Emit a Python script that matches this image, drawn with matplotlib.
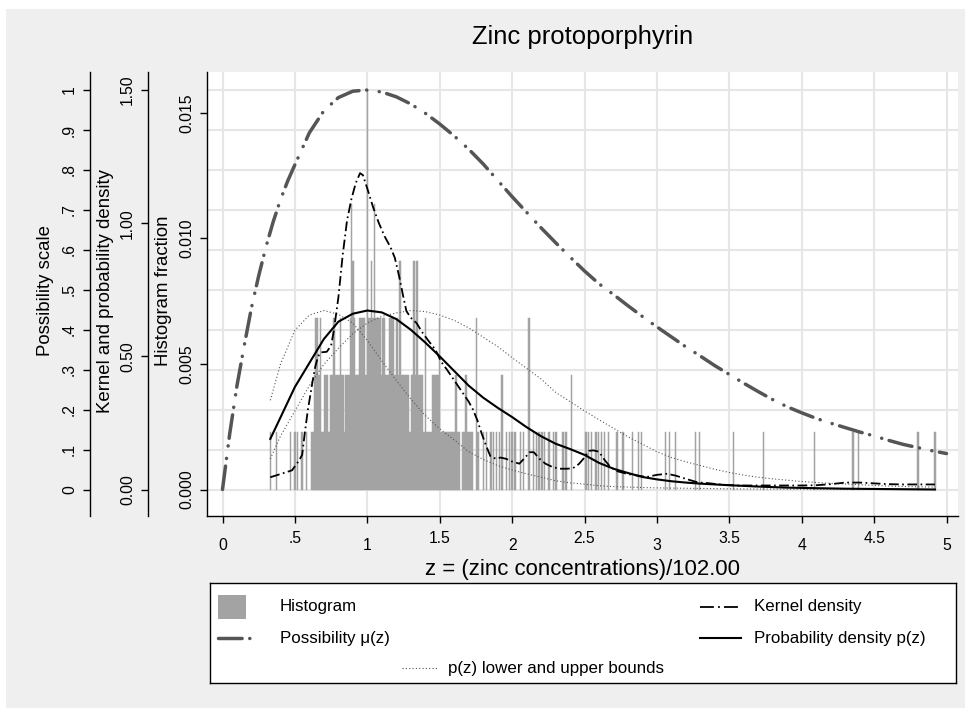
import matplotlib
matplotlib.use("Agg")
import matplotlib.pyplot as plt
import matplotlib.transforms as mtransforms
from matplotlib import font_manager as fm
from matplotlib.patches import Rectangle

# ---------------- text ----------------
TITLE = "Zinc protoporphyrin"
X_LABEL = "z = (zinc concentrations)/102.00"
Y_LABEL_POSS = "Possibility scale"
Y_LABEL_KERN = "Kernel and probability density"
Y_LABEL_HIST = "Histogram fraction"
LEG_HIST = "Histogram"
LEG_POSS = "Possibility \u03bc(z)"
LEG_KERN = "Kernel density"
LEG_PROB = "Probability density p(z)"
LEG_BOUND = "p(z) lower and upper bounds"

# ---------------- ticks ----------------
X_TICKS = [0, 0.5, 1, 1.5, 2, 2.5, 3, 3.5, 4, 4.5, 5]
X_TICK_LABELS = ["0", ".5", "1", "1.5", "2", "2.5", "3", "3.5", "4", "4.5", "5"]
POSS_TICKS = [0, .1, .2, .3, .4, .5, .6, .7, .8, .9, 1]
POSS_TICK_LABELS = ["0", ".1", ".2", ".3", ".4", ".5", ".6", ".7", ".8", ".9", "1"]
KERN_TICKS = [0, 0.5, 1.0, 1.5]
KERN_TICK_LABELS = ["0.00", "0.50", "1.00", "1.50"]
HIST_TICKS = [0, 0.005, 0.010, 0.015]
HIST_TICK_LABELS = ["0.000", "0.005", "0.010", "0.015"]

# ---------------- data ----------------
ZINC_DIVISOR = 102.0
HIST_N = 440
hist_zinc = [34, 38, 48, 51, 53, 56, 59,
             63, 64, 65, 66, 67, 68, 69, 70, 71, 72, 73, 74, 75, 76, 77, 78, 79, 80,
             81, 82, 83, 84, 85, 86, 87, 88, 89, 90, 91, 92, 93, 94, 95, 96, 97, 98,
             99, 100, 101, 102, 103, 104, 105, 106, 107, 108, 109, 110, 111, 112, 113,
             114, 115, 116, 117, 118, 119, 120, 121, 122, 123, 124, 125, 126, 127, 128,
             129, 130, 131, 132, 133, 134, 135, 136, 137, 138, 139, 140, 141, 142, 143,
             144, 145, 146, 147, 148, 149, 150, 151, 152, 153, 154, 155, 156, 157, 158,
             159, 160, 161, 162, 163, 164, 165, 166, 167, 169, 170, 171, 172, 173, 174,
             175, 176,
             179, 180, 184, 186, 189, 191, 193, 195, 197, 200, 202, 204, 206, 210, 212,
             216, 219, 221, 223, 225, 227, 230, 233, 235, 240, 242, 246, 256, 258, 260,
             263, 265, 267, 269, 272, 278, 282, 289, 293, 295, 312, 315, 319, 333, 336,
             360, 381, 417, 444, 448, 490, 502]
hist_count = [1, 1, 1, 1, 1, 1, 1,
              1, 1, 2, 3, 3, 2, 3, 1, 1, 2, 2, 2, 1, 2, 2, 3, 3, 2,
              2, 2, 3, 2, 2, 1, 2, 2, 2, 3, 5, 4, 3, 2, 2, 2, 3, 3,
              3, 3, 2, 7, 3, 3, 4, 3, 5, 3, 3, 3, 3, 2, 3,
              3, 2, 2, 2, 3, 3, 3, 2, 2, 3, 2, 4, 2, 2, 2,
              2, 2, 2, 1, 2, 2, 4, 2, 4, 2, 2, 2, 2, 1, 3,
              1, 1, 1, 1, 2, 2, 2, 2, 2, 3, 1, 1, 1, 1, 1,
              1, 1, 1, 1, 1, 2, 2, 1, 1, 1, 1, 2, 2, 1, 1,
              1, 1,
              3, 1, 1, 1, 1, 1, 1, 1, 2, 1, 1, 1, 1, 1, 1,
              3, 1, 1, 1, 1, 1, 1, 1, 1, 1, 1, 2, 1, 1, 1,
              1, 1, 1, 1, 1, 1, 1, 1, 1, 1, 1, 1, 1, 1, 1,
              1, 1, 1, 1, 1, 1, 1]

poss_z = [0.0, 0.05, 0.1, 0.15, 0.2, 0.25, 0.3, 0.35, 0.4, 0.45, 0.5, 0.6, 0.7, 0.8,
          0.9, 1.0, 1.1, 1.2, 1.3, 1.4, 1.5, 1.6, 1.7, 1.8, 1.9, 2.0, 2.1, 2.2, 2.3,
          2.4, 2.5, 2.6, 2.7, 2.8, 2.9, 3.0, 3.1, 3.2, 3.3, 3.4, 3.5, 3.6, 3.7, 3.8,
          3.9, 4.0, 4.1, 4.2, 4.3, 4.4, 4.5, 4.6, 4.7, 4.8, 4.9, 5.0]
poss_mu = [0.0, 0.14, 0.26, 0.36, 0.455, 0.535, 0.607, 0.67, 0.725, 0.772, 0.813, 0.893,
           0.948, 0.981, 0.997, 1.0, 0.995, 0.983, 0.965, 0.942, 0.915, 0.885, 0.852,
           0.815, 0.774, 0.733, 0.694, 0.655, 0.618, 0.582, 0.547, 0.515, 0.488, 0.46,
           0.433, 0.407, 0.382, 0.357, 0.334, 0.31, 0.288, 0.266, 0.245, 0.225, 0.207,
           0.192, 0.178, 0.166, 0.155, 0.144, 0.134, 0.123, 0.113, 0.105, 0.097, 0.09]

kern_z = [0.33, 0.40, 0.48, 0.53, 0.55, 0.57, 0.59, 0.62, 0.64, 0.66, 0.68, 0.72, 0.75,
          0.77, 0.80, 0.83, 0.86, 0.89, 0.92, 0.95, 0.97, 1.00, 1.04, 1.08, 1.12, 1.16,
          1.19, 1.22, 1.25, 1.27, 1.30, 1.34, 1.38, 1.42, 1.47, 1.51, 1.55, 1.60, 1.65,
          1.70, 1.73, 1.76, 1.79, 1.82, 1.85, 1.89, 1.92, 1.96, 2.00, 2.05, 2.09, 2.12,
          2.15, 2.19, 2.23, 2.28, 2.33, 2.38, 2.42, 2.46, 2.50, 2.53, 2.56, 2.60, 2.64,
          2.68, 2.73, 2.80, 2.87, 2.93, 3.00, 3.07, 3.13, 3.20, 3.28, 3.35, 3.45, 3.55,
          3.70, 3.85, 4.00, 4.10, 4.20, 4.30, 4.40, 4.50, 4.60, 4.70, 4.80, 4.92]
kern_d = [0.046, 0.058, 0.072, 0.11, 0.13, 0.22, 0.30, 0.40, 0.46, 0.50, 0.515, 0.517,
          0.54, 0.60, 0.72, 0.88, 1.01, 1.09, 1.15, 1.188, 1.18, 1.13, 1.06, 1.0, 0.95,
          0.91, 0.87, 0.80, 0.72, 0.67, 0.645, 0.625, 0.59, 0.56, 0.525, 0.48, 0.45,
          0.41, 0.37, 0.33, 0.30, 0.26, 0.21, 0.165, 0.125, 0.115, 0.12, 0.115, 0.105,
          0.097, 0.12, 0.14, 0.14, 0.115, 0.097, 0.084, 0.078, 0.078, 0.08, 0.095, 0.12,
          0.145, 0.147, 0.142, 0.11, 0.084, 0.068, 0.058, 0.052, 0.047, 0.055, 0.059,
          0.052, 0.04, 0.027, 0.024, 0.018, 0.015, 0.015, 0.015, 0.015, 0.016, 0.02,
          0.026, 0.026, 0.023, 0.02, 0.019, 0.019, 0.019]

prob_z = [0.33, 0.4, 0.5, 0.6, 0.7, 0.8, 0.9, 1.0, 1.1, 1.2, 1.3, 1.4, 1.5, 1.6, 1.7,
          1.8, 1.9, 2.0, 2.1, 2.2, 2.3, 2.4, 2.5, 2.6, 2.7, 2.8, 2.9, 3.0, 3.1, 3.2,
          3.3, 3.5, 3.7, 3.9, 4.1, 4.3, 4.5, 4.7, 4.92]
prob_p = [0.19, 0.27, 0.385, 0.475, 0.565, 0.63, 0.66, 0.672, 0.665, 0.64, 0.60, 0.552,
          0.50, 0.445, 0.39, 0.345, 0.307, 0.272, 0.234, 0.20, 0.172, 0.152, 0.13, 0.10,
          0.078, 0.062, 0.047, 0.038, 0.031, 0.026, 0.022, 0.016, 0.011, 0.007, 0.005,
          0.003, 0.002, 0.001, 0.0]

lowb_z = [0.33, 0.4, 0.5, 0.6, 0.7, 0.8, 0.9, 1.0, 1.1, 1.2, 1.3, 1.4, 1.5, 1.6, 1.7,
          1.8, 1.9, 2.0, 2.1, 2.2, 2.3, 2.4, 2.5, 2.6, 2.7, 2.8, 3.0, 3.3, 3.6, 4.0,
          4.5, 4.92]
lowb_p = [0.335, 0.47, 0.598, 0.655, 0.672, 0.658, 0.625, 0.56, 0.483, 0.41, 0.34,
          0.278, 0.228, 0.186, 0.142, 0.113, 0.09, 0.073, 0.059, 0.046, 0.033, 0.025,
          0.02, 0.014, 0.011, 0.009, 0.006, 0.004, 0.002, 0.001, 0.0005, 0.0]

uppb_z = [0.33, 0.4, 0.5, 0.6, 0.7, 0.8, 0.9, 1.0, 1.1, 1.2, 1.3, 1.4, 1.5, 1.6, 1.7,
          1.8, 1.9, 2.0, 2.1, 2.2, 2.3, 2.4, 2.5, 2.6, 2.7, 2.8, 2.9, 3.0, 3.1, 3.2,
          3.3, 3.4, 3.5, 3.6, 3.7, 3.8, 3.9, 4.0, 4.2, 4.4, 4.6, 4.8, 4.92]
uppb_p = [0.115, 0.20, 0.295, 0.39, 0.47, 0.53, 0.585, 0.625, 0.65, 0.663, 0.672, 0.668,
          0.655, 0.635, 0.607, 0.572, 0.537, 0.495, 0.455, 0.415, 0.365, 0.33, 0.295,
          0.262, 0.23, 0.198, 0.17, 0.142, 0.12, 0.104, 0.09, 0.076, 0.064, 0.054,
          0.046, 0.04, 0.035, 0.03, 0.023, 0.018, 0.013, 0.01, 0.009]

# ---------------- fonts ----------------
_names = {f.name for f in fm.fontManager.ttflist}
NARROW = "Liberation Sans Narrow" in _names
FAM = "Liberation Sans Narrow" if NARROW else "Liberation Sans"
plt.rcParams["font.family"] = [FAM, "DejaVu Sans"]
plt.rcParams["lines.scale_dashes"] = False
SC = 1.0 if NARROW else 0.84
FS_TITLE = 22 * SC
FS_XLAB = 19 * SC
FS_YLAB = 16 * SC
FS_TICK = 13.5 * SC
FS_LEG = 14.5 * SC

# ---------------- layout (pixels) ----------------
W, H = 973, 716
L, R, T, B = 207, 958, 72, 516
Z0_PX, PX_PER_Z = 222.5, 144.8
BASE_PX = 489.5
PX_PER_POSS = 399.5
PX_PER_KERN = 399.5 / 1.5
PX_PER_HIST = 376.6 / 0.015

def fx(px):
    return px / W

def fy(py):
    return 1 - py / H

def ylims(ppu):
    return (-(B - BASE_PX) / ppu, (BASE_PX - T) / ppu)

XLIM = ((L - Z0_PX) / PX_PER_Z, (R - Z0_PX) / PX_PER_Z)
PT = 0.72  # points per pixel at 100 dpi

fig = plt.figure(figsize=(W / 100, H / 100), dpi=100, facecolor="white")
fig.patches.append(Rectangle((fx(6), fy(708)), (965 - 6) / W, (708 - 9) / H,
                             transform=fig.transFigure, facecolor="#efefef",
                             edgecolor="none", zorder=-10))

rect = [fx(L), fy(B), (R - L) / W, (B - T) / H]
ax_p = fig.add_axes(rect, facecolor="white")
ax_h = fig.add_axes(rect, sharex=ax_p, facecolor="none")
ax_k = fig.add_axes(rect, sharex=ax_p, facecolor="none")
ax_mu = fig.add_axes(rect, sharex=ax_p, sharey=ax_p, facecolor="none")

ax_p.set_xlim(*XLIM)
ax_p.set_ylim(*ylims(PX_PER_POSS))
ax_h.set_ylim(*ylims(PX_PER_HIST))
ax_k.set_ylim(*ylims(PX_PER_KERN))

# grid on base axes
ax_p.set_axisbelow(True)
ax_p.grid(True, color="#e6e6e6", linewidth=1.5)

for a in (ax_p, ax_h, ax_k, ax_mu):
    for s in ("top", "right"):
        a.spines[s].set_visible(False)
for a in (ax_h, ax_k, ax_mu):
    a.spines["bottom"].set_visible(False)
    a.tick_params(axis="x", bottom=False, labelbottom=False)
ax_mu.spines["left"].set_visible(False)
ax_mu.tick_params(axis="y", left=False, labelleft=False)

ax_p.spines["left"].set_position(("outward", (L - 90) * PT))
ax_k.spines["left"].set_position(("outward", (L - 148) * PT))
for a in (ax_p, ax_h, ax_k):
    a.spines["left"].set_linewidth(1.0)
ax_p.spines["bottom"].set_linewidth(1.0)

# ---------------- histogram ----------------
hz = [k / ZINC_DIVISOR for k in hist_zinc]
hf = [c / HIST_N for c in hist_count]
ax_h.bar(hz, hf, width=1 / ZINC_DIVISOR, color="#a3a3a3", edgecolor="#a3a3a3",
         linewidth=0.35, align="center", zorder=2)

# ---------------- curves ----------------
ax_k.plot(lowb_z, lowb_p, color="#555555", linewidth=0.8, dashes=(0.8, 1.6), zorder=3)
ax_k.plot(uppb_z, uppb_p, color="#555555", linewidth=0.8, dashes=(0.8, 1.6), zorder=3)
ax_k.plot(prob_z, prob_p, color="black", linewidth=1.5, zorder=4)
KERN_DASH = (7, 2.5, 1.2, 2.5)
ax_k.plot(kern_z, kern_d, color="black", linewidth=1.3, dashes=KERN_DASH, zorder=5)
POSS_DASH = (17, 5.5, 0.1, 9, 0.1, 5.5)
ax_mu.plot(poss_z, poss_mu, color="#555555", linewidth=2.5, dashes=POSS_DASH,
           dash_capstyle="round", zorder=6)

# ---------------- ticks ----------------
ax_p.set_xticks(X_TICKS, X_TICK_LABELS)
ax_p.tick_params(axis="x", direction="out", length=7 * PT, width=1.0, pad=15 * PT,
                 labelsize=FS_TICK)
for lab, t in zip(ax_p.get_xticklabels(), X_TICKS):
    if t % 1:
        lab.set_transform(lab.get_transform() +
                          mtransforms.ScaledTranslation(0, 7 / 100, fig.dpi_scale_trans))

for a, ticks, labels in ((ax_p, POSS_TICKS, POSS_TICK_LABELS),
                         (ax_k, KERN_TICKS, KERN_TICK_LABELS),
                         (ax_h, HIST_TICKS, HIST_TICK_LABELS)):
    a.set_yticks(ticks, labels)
    a.tick_params(axis="y", direction="out", length=7 * PT, width=1.0, pad=6 * PT,
                  labelsize=FS_TICK, labelrotation=90)
    for lab in a.get_yticklabels():
        lab.set_va("center")
        lab.set_ha("right")

# ---------------- labels ----------------
YLAB_CY = (B - 291) / (B - T)
for a, txt, xpx in ((ax_p, Y_LABEL_POSS, 45), (ax_k, Y_LABEL_KERN, 105),
                    (ax_h, Y_LABEL_HIST, 164)):
    a.set_ylabel(txt, fontsize=FS_YLAB, va="center", ha="center")
    a.yaxis.set_label_coords((xpx - L) / (R - L), YLAB_CY)

ax_p.set_xlabel(X_LABEL, fontsize=FS_XLAB, va="center", ha="center")
ax_p.xaxis.set_label_coords(((L + R) / 2 - L) / (R - L), (B - 569) / (B - T))

fig.text(fx((L + R) / 2), fy(37), TITLE, ha="center", va="center", fontsize=FS_TITLE)

# ---------------- legend ----------------
LG_L, LG_T, LG_R, LG_B = 210, 583, 956, 683
lg = fig.add_axes([fx(LG_L), fy(LG_B), (LG_R - LG_L) / W, (LG_B - LG_T) / H],
                  facecolor="white")
lg.set_xlim(0, LG_R - LG_L)
lg.set_ylim(LG_B - LG_T, 0)
lg.set_xticks([])
lg.set_yticks([])
for s in lg.spines.values():
    s.set_linewidth(1.0)
    s.set_color("black")

row1, row2, row3 = 24, 55, 85
lg.add_patch(Rectangle((8, row1 - 12), 28, 24, facecolor="#a3a3a3", edgecolor="none"))
lg.text(70, row1, LEG_HIST, va="center", ha="left", fontsize=FS_LEG)
lg.plot([8, 42], [row2, row2], color="#555555", linewidth=2.5, dashes=POSS_DASH,
        dash_capstyle="round")
lg.text(70, row2, LEG_POSS, va="center", ha="left", fontsize=FS_LEG)
lg.plot([490, 531], [row1, row1], color="black", linewidth=1.3, dashes=(10, 3, 1.3, 3))
lg.text(544, row1, LEG_KERN, va="center", ha="left", fontsize=FS_LEG)
lg.plot([490, 531], [row2, row2], color="black", linewidth=1.5)
lg.text(544, row2, LEG_PROB, va="center", ha="left", fontsize=FS_LEG)
lg.plot([192, 228], [row3, row3], color="#555555", linewidth=0.8, dashes=(0.8, 1.6))
lg.text(238, row3, LEG_BOUND, va="center", ha="left", fontsize=FS_LEG)

fig.savefig("out.png", dpi=100, facecolor=fig.get_facecolor())
